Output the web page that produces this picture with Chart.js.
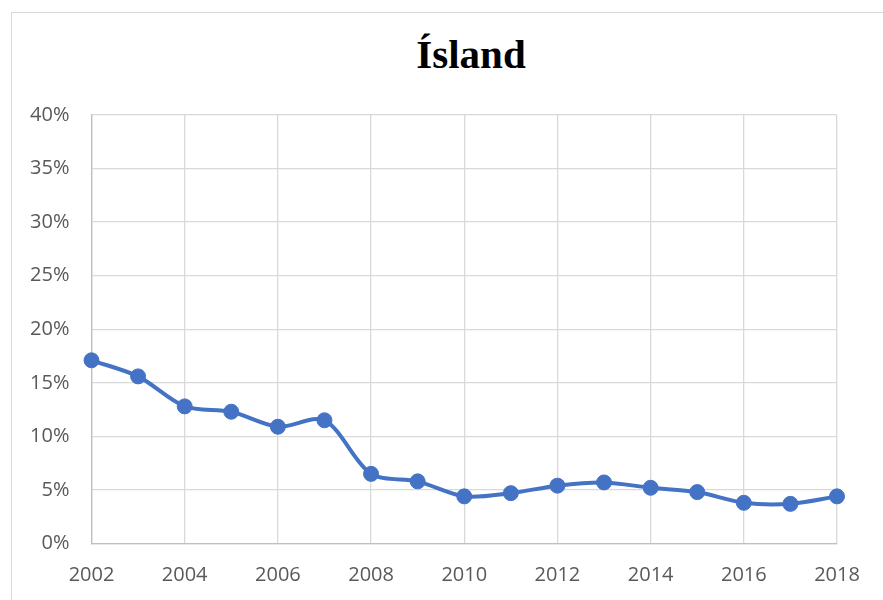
<!DOCTYPE html>
<html>
<head>
<meta charset="utf-8">
<script src="https://cdn.jsdelivr.net/npm/chart.js@4.4.1/dist/chart.umd.min.js"></script>
<style>
  html, body { margin: 0; padding: 0; background: #fff; }
  #wrap { position: relative; width: 883px; height: 600px; overflow: hidden; }
  #frame { position: absolute; left: 11px; top: 12px; width: 900px; height: 620px; border: 1px solid #d9d9d9; box-sizing: border-box; }
  #title { position: absolute; left: 0; width: 942px; top: 31px; text-align: center; margin: 0;
           font: bold 41px "Liberation Serif", "Times New Roman", serif; color: #000; line-height: 46px; }
  canvas { position: absolute; left: 0; top: 0; }
</style>
</head>
<body>
<div id="wrap">
  <div id="frame"></div>
  <h1 id="title">Ísland</h1>
  <canvas id="chart" width="883" height="600"></canvas>
</div>
<script>
// Data
const years = [2002, 2003, 2004, 2005, 2006, 2007, 2008, 2009, 2010, 2011, 2012, 2013, 2014, 2015, 2016, 2017, 2018];
const share = [17.1, 15.6, 12.8, 12.3, 10.9, 11.5, 6.5, 5.8, 4.4, 4.7, 5.4, 5.7, 5.2, 4.8, 3.8, 3.7, 4.4];
const yTicks = [0, 5, 10, 15, 20, 25, 30, 35, 40];

const blue = "#4472C4";
const gridColor = "#d9d9d9";

new Chart(document.getElementById("chart").getContext("2d"), {
  type: "line",
  data: {
    datasets: [{
      data: years.map((y, i) => ({ x: y, y: share[i] })),
      borderColor: blue,
      backgroundColor: blue,
      borderWidth: 4,
      pointRadius: 7.5,
      pointBorderWidth: 1,
      pointBackgroundColor: blue,
      pointBorderColor: blue,
      tension: 0.3,
      clip: false,
    }],
  },
  options: {
    responsive: false,
    animation: false,
    layout: { padding: { left: 0, right: 46, top: 115, bottom: 0 } },
    plugins: { legend: { display: false }, tooltip: { enabled: false } },
    scales: {
      x: {
        type: "linear",
        min: years[0],
        max: years[years.length - 1],
        afterBuildTicks: (s) => { s.ticks = years.filter((y) => y % 2 === 0).map((v) => ({ value: v })); },
        afterFit: (s) => { s.height = 56.5; },
        ticks: {
          color: "#595959",
          font: { family: "'Open Sans', sans-serif", size: 20 },
          padding: 20,
          maxRotation: 0,
          callback: (v) => String(v),
        },
        grid: { color: gridColor, lineWidth: 1.3, drawTicks: false },
        border: { color: "#bfbfbf", width: 1.3 },
      },
      y: {
        min: 0,
        max: 40,
        afterBuildTicks: (s) => { s.ticks = yTicks.map((v) => ({ value: v })); },
        afterFit: (s) => { s.width = 91.5; },
        ticks: {
          color: "#595959",
          font: { family: "'Open Sans', sans-serif", size: 20 },
          padding: 22,
          callback: (v) => v + "%",
        },
        grid: { color: gridColor, lineWidth: 1.3, drawTicks: false },
        border: { color: "#bfbfbf", width: 1.3 },
      },
    },
  },
});
</script>
</body>
</html>
